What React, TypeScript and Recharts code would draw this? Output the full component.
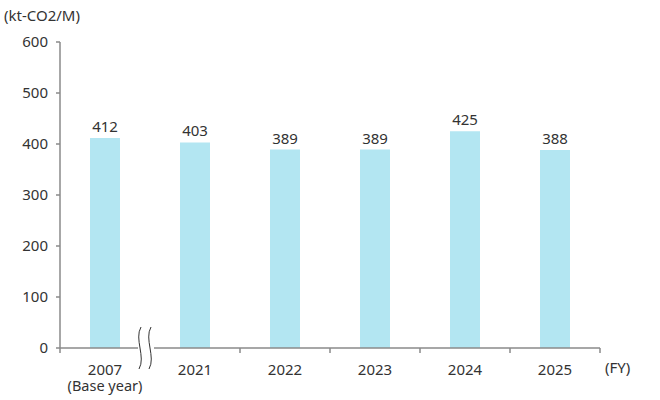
import { Bar, BarChart, LabelList, XAxis, YAxis } from 'recharts'

const YEARS = ['2007', '2021', '2022', '2023', '2024', '2025']
const EMISSIONS = [412, 403, 389, 389, 425, 388]
const Y_TICKS = [0, 100, 200, 300, 400, 500, 600]

const data = YEARS.map((year, i) => ({ year, value: EMISSIONS[i] }))

const AXIS = '#8a8a8a'
const TEXT = '#333333'
const FONT = '"Noto Sans", sans-serif'
const BAND = 90

// squiggle for the axis break, drawn around a centre x
function wave(cx: number, y: number) {
  return `M ${cx + 1} ${y - 21} C ${cx - 6} ${y - 9}, ${cx + 6} ${y + 9}, ${cx - 1} ${y + 21}`
}

function YearTick(props: any) {
  const { x, y, payload, index } = props
  const right = x + BAND / 2
  const left = x - BAND / 2
  return (
    <g>
      <text x={x} y={y + 27} textAnchor="middle" fill={TEXT} fontSize={15} fontFamily={FONT}>
        <tspan x={x}>{payload.value}</tspan>
        {index === 0 ? (
          <tspan x={x} dy={16} fontSize={14.5}>
            (Base year)
          </tspan>
        ) : null}
      </text>
      {index === 0 ? (
        <g>
          <line x1={left} y1={y} x2={left} y2={y + 5} stroke={AXIS} strokeWidth={1.5} />
          <rect x={right - 12} y={y - 3} width={16} height={6} fill="#fff" />
          <path d={wave(right - 10, y)} fill="none" stroke={TEXT} strokeWidth={1} />
          <path d={wave(right, y)} fill="none" stroke={TEXT} strokeWidth={1} />
        </g>
      ) : (
        <line x1={right} y1={y} x2={right} y2={y + 5} stroke={AXIS} strokeWidth={1.5} />
      )}
    </g>
  )
}

export default function App() {
  return (
    <div style={{ position: 'absolute', left: 0, top: 0, width: 660, height: 400, background: '#fff' }}>
      <div
        style={{
          position: 'absolute',
          left: 4,
          top: 5,
          fontFamily: FONT,
          fontSize: 15,
          color: TEXT,
        }}
      >
        (kt-CO2/M)
      </div>
      <div
        style={{
          position: 'absolute',
          left: 605,
          top: 357,
          fontFamily: FONT,
          fontSize: 15,
          color: TEXT,
        }}
      >
        (FY)
      </div>
      <BarChart
        width={660}
        height={400}
        data={data}
        margin={{ top: 42, right: 60, bottom: 22, left: 0 }}
        barCategoryGap={30}
      >
        <XAxis
          dataKey="year"
          axisLine={{ stroke: AXIS, strokeWidth: 1.5 }}
          tickLine={false}
          tickSize={0}
          tickMargin={0}
          tick={<YearTick />}
          interval={0}
        />
        <YAxis
          width={60}
          domain={[0, 600]}
          ticks={Y_TICKS}
          axisLine={{ stroke: AXIS, strokeWidth: 1.5 }}
          tickLine={{ stroke: AXIS, strokeWidth: 1.5 }}
          tickSize={4}
          tickMargin={8}
          tick={{ fill: TEXT, fontSize: 15, fontFamily: FONT }}
        />
        <Bar dataKey="value" fill="#b3e6f2" barSize={30} isAnimationActive={false}>
          <LabelList
            dataKey="value"
            position="top"
            offset={6}
            fill={TEXT}
            fontSize={15}
            fontFamily={FONT}
          />
        </Bar>
      </BarChart>
    </div>
  )
}
